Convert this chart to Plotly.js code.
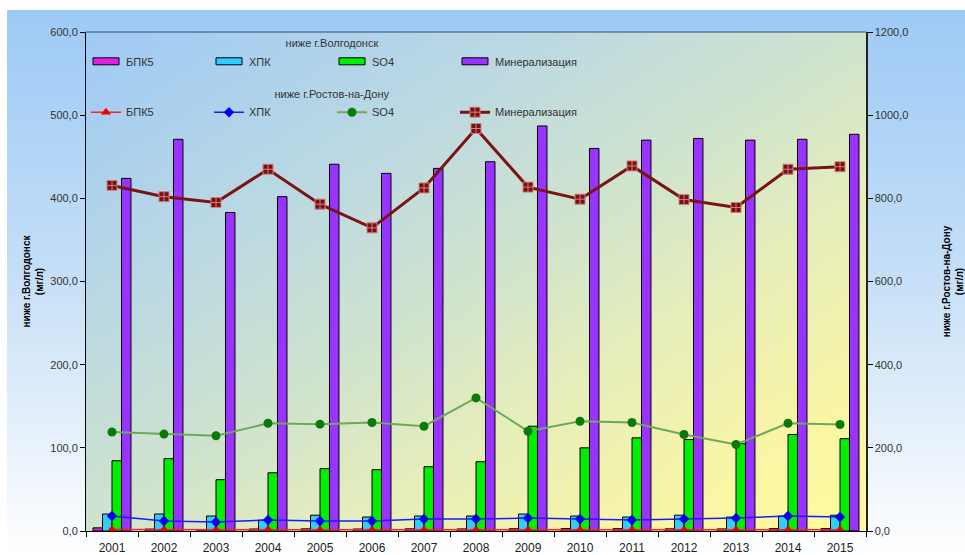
<!DOCTYPE html>
<html>
<head>
<meta charset="utf-8">
<script src="https://cdn.plot.ly/plotly-3.0.1.min.js"></script>
<style>
  html, body { margin: 0; padding: 0; background: #ffffff; }
  #wrap { position: relative; width: 965px; height: 555px; overflow: hidden; background: #ffffff; }
  #bg { position: absolute; left: 7px; top: 10px; right: 0; bottom: 0;
        background: linear-gradient(to bottom, #9dcaf6 0%, #c2ddf7 45%, #eef5fc 85%, #ffffff 100%); }
  #chart { position: absolute; left: 0; top: 0; width: 965px; height: 555px; }
</style>
</head>
<body>
<div id="wrap"><div id="bg"></div><div id="chart"></div></div>
<script>
const years = ['2001','2002','2003','2004','2005','2006','2007','2008','2009','2010','2011','2012','2013','2014','2015'];
const seriesNames = ['БПК5', 'ХПК', 'SO4', 'Минерализация'];

// ниже г.Волгодонск (left axis, bars)
const volgBpk5 = [3.8, 2.3, 1.8, 2.4, 2.6, 2.4, 2.6, 2.5, 2.7, 3.0, 2.8, 2.6, 2.5, 2.8, 2.9];
const volgXpk  = [20.4, 20.4, 18.0, 13.0, 19.0, 16.8, 18.0, 18.0, 20.4, 18.0, 16.8, 19.0, 16.8, 18.0, 19.0];
const volgSo4  = [84.5, 87.0, 61.7, 70.0, 75.0, 73.7, 77.3, 83.3, 126.0, 100.0, 112.0, 110.0, 105.0, 116.0, 111.0];
const volgMin  = [424, 471, 383, 402, 441, 430, 436, 444, 487, 460, 470, 472, 470, 471, 477];

// ниже г.Ростов-на-Дону (right axis, lines)
const rostBpk5 = [3.5, 3.0, 3.2, 3.5, 3.0, 3.1, 3.3, 3.2, 3.0, 3.1, 3.3, 3.2, 3.0, 3.2, 3.1];
const rostXpk  = [36.0, 24.0, 21.6, 26.5, 24.0, 24.0, 28.9, 28.9, 31.0, 29.0, 26.5, 29.0, 31.0, 36.0, 33.7];
const rostSo4  = [238, 233, 229, 259, 257, 261, 252, 320, 240, 264, 261, 232, 208, 259, 256];
const rostMin  = [831, 804, 790, 870, 786, 729, 825, 968, 827, 798, 878, 797, 778, 870, 876];

const legendTitle1 = 'ниже г.Волгодонск';
const legendTitle2 = 'ниже г.Ростов-на-Дону';
const yTitle1 = 'ниже г.Волгодонск<br>(мг/л)';
const yTitle2 = 'ниже г.Ростов-на-Дону<br>(мг/л)';

const FONT = 'Arial, "Liberation Sans", sans-serif';

function bar(name, y, color) {
  return { type: 'bar', name: name, x: years, y: y, yaxis: 'y', legend: 'legend',
           marker: { color: color, line: { color: '#000000', width: 1 } } };
}
function line(name, y, color, width, msym, mcolor, msize, mline) {
  return { type: 'scatter', mode: 'lines+markers', name: name, x: years, y: y, yaxis: 'y2', legend: 'legend2',
           line: { color: color, width: width },
           marker: { symbol: msym, color: mcolor, size: msize, line: mline || { width: 0 } } };
}

const data = [
  bar(seriesNames[0], volgBpk5, '#e020e0'),
  bar(seriesNames[1], volgXpk, '#33ccff'),
  bar(seriesNames[2], volgSo4, '#00ee00'),
  bar(seriesNames[3], volgMin, '#9933ff'),
  line(seriesNames[0], rostBpk5, '#ff2020', 1.5, 'triangle-up', '#ee0000', 9),
  line(seriesNames[1], rostXpk, '#1a1aff', 1.5, 'diamond', '#0000ee', 8),
  line(seriesNames[2], rostSo4, '#6fa85a', 2, 'circle', '#0a7a0a', 9),
  line(seriesNames[3], rostMin, '#7a1414', 3, 'square-cross', '#7a1010', 10, { color: '#d08080', width: 1 })
];

const gradSvg = '<svg xmlns="http://www.w3.org/2000/svg" width="780" height="499" viewBox="0 0 780 499" preserveAspectRatio="none">' +
  '<defs><linearGradient id="g" x1="0" y1="0" x2="1" y2="1">' +
  '<stop offset="0" stop-color="#9fcaf6"/>' +
  '<stop offset="0.3" stop-color="#bcd9e2"/>' +
  '<stop offset="0.5" stop-color="#cfe3cd"/>' +
  '<stop offset="0.65" stop-color="#e4edbc"/>' +
  '<stop offset="0.85" stop-color="#f8f5a6"/>' +
  '<stop offset="1" stop-color="#fffb9c"/>' +
  '</linearGradient></defs><rect x="0" y="0" width="780" height="499" fill="url(#g)"/></svg>';

const layout = {
  width: 965, height: 555,
  margin: { l: 86, r: 99, t: 32, b: 24 },
  paper_bgcolor: 'rgba(0,0,0,0)',
  plot_bgcolor: 'rgba(0,0,0,0)',
  font: { family: FONT, size: 11, color: '#333333' },
  separators: ',.',
  barmode: 'group',
  bargap: 0.27,
  bargroupgap: 0,
  showlegend: true,
  images: [{ source: 'data:image/svg+xml;charset=utf-8,' + encodeURIComponent(gradSvg),
             xref: 'paper', yref: 'paper', x: 0, y: 1, sizex: 1, sizey: 1,
             xanchor: 'left', yanchor: 'top', sizing: 'stretch', layer: 'below' }],
  xaxis: {
    type: 'category', range: [-0.5, years.length - 0.5], autorange: false,
    showgrid: false, zeroline: false,
    showline: true, linecolor: '#000000', linewidth: 1,
    ticks: 'outside', tickson: 'boundaries', ticklen: 5, tickcolor: '#000000',
    ticklabelstandoff: 6,
    tickfont: { family: FONT, size: 12, color: '#222222' },
    fixedrange: true
  },
  yaxis: {
    range: [0, 600], dtick: 100, tickformat: '.1f',
    showgrid: false, zeroline: false,
    showline: true, linecolor: '#000000', linewidth: 1,
    ticks: 'outside', ticklen: 5, tickcolor: '#000000',
    tickfont: { family: FONT, size: 11, color: '#333333' },
    title: { text: yTitle1, font: { family: FONT, size: 10, color: '#000000', weight: 'bold' }, standoff: 4 }
  },
  yaxis2: {
    overlaying: 'y', side: 'right',
    range: [0, 1200], dtick: 200, tickformat: '.1f',
    showgrid: false, zeroline: false,
    showline: true, linecolor: '#222222', linewidth: 1.5,
    ticks: 'outside', ticklen: 5, tickcolor: '#000000',
    tickfont: { family: FONT, size: 11, color: '#333333' },
    title: { text: yTitle2, font: { family: FONT, size: 10, color: '#000000', weight: 'bold' }, standoff: 36 }
  },
  legend: {
    orientation: 'h', x: 0, xanchor: 'left', y: 0.999, yanchor: 'top',
    bgcolor: 'rgba(0,0,0,0)', borderwidth: 0,
    entrywidth: 78, entrywidthmode: 'pixels', itemwidth: 30,
    font: { family: FONT, size: 11, color: '#333333' },
    title: { text: legendTitle1, side: 'top center', font: { family: FONT, size: 11, color: '#333333' } },
    traceorder: 'normal'
  },
  legend2: {
    orientation: 'h', x: 0, xanchor: 'left', y: 0.897, yanchor: 'top',
    bgcolor: 'rgba(0,0,0,0)', borderwidth: 0,
    entrywidth: 78, entrywidthmode: 'pixels', itemwidth: 30,
    font: { family: FONT, size: 11, color: '#333333' },
    title: { text: legendTitle2, side: 'top center', font: { family: FONT, size: 11, color: '#333333' } },
    traceorder: 'normal'
  },
  shapes: [{ type: 'line', xref: 'paper', yref: 'paper', x0: 0, x1: 1, y0: 1, y1: 1,
             line: { color: '#3c4a5a', width: 1 } }]
};

function widenBarSwatches() {
  document.querySelectorAll('#chart .legendpoints path').forEach(function (p) {
    const d = (p.getAttribute('d') || '').replace(/\s/g, '');
    if (p.classList.contains('legendbar') || d === 'M6,6H-6V-6H6Z') {
      p.setAttribute('d', 'M13,3.5H-13V-3.5H13Z');
    }
  });
}

Plotly.newPlot('chart', data, layout, { staticPlot: true, displayModeBar: false }).then(function () {
  widenBarSwatches();
  setTimeout(widenBarSwatches, 50);
  setTimeout(widenBarSwatches, 300);
});
</script>
</body>
</html>
